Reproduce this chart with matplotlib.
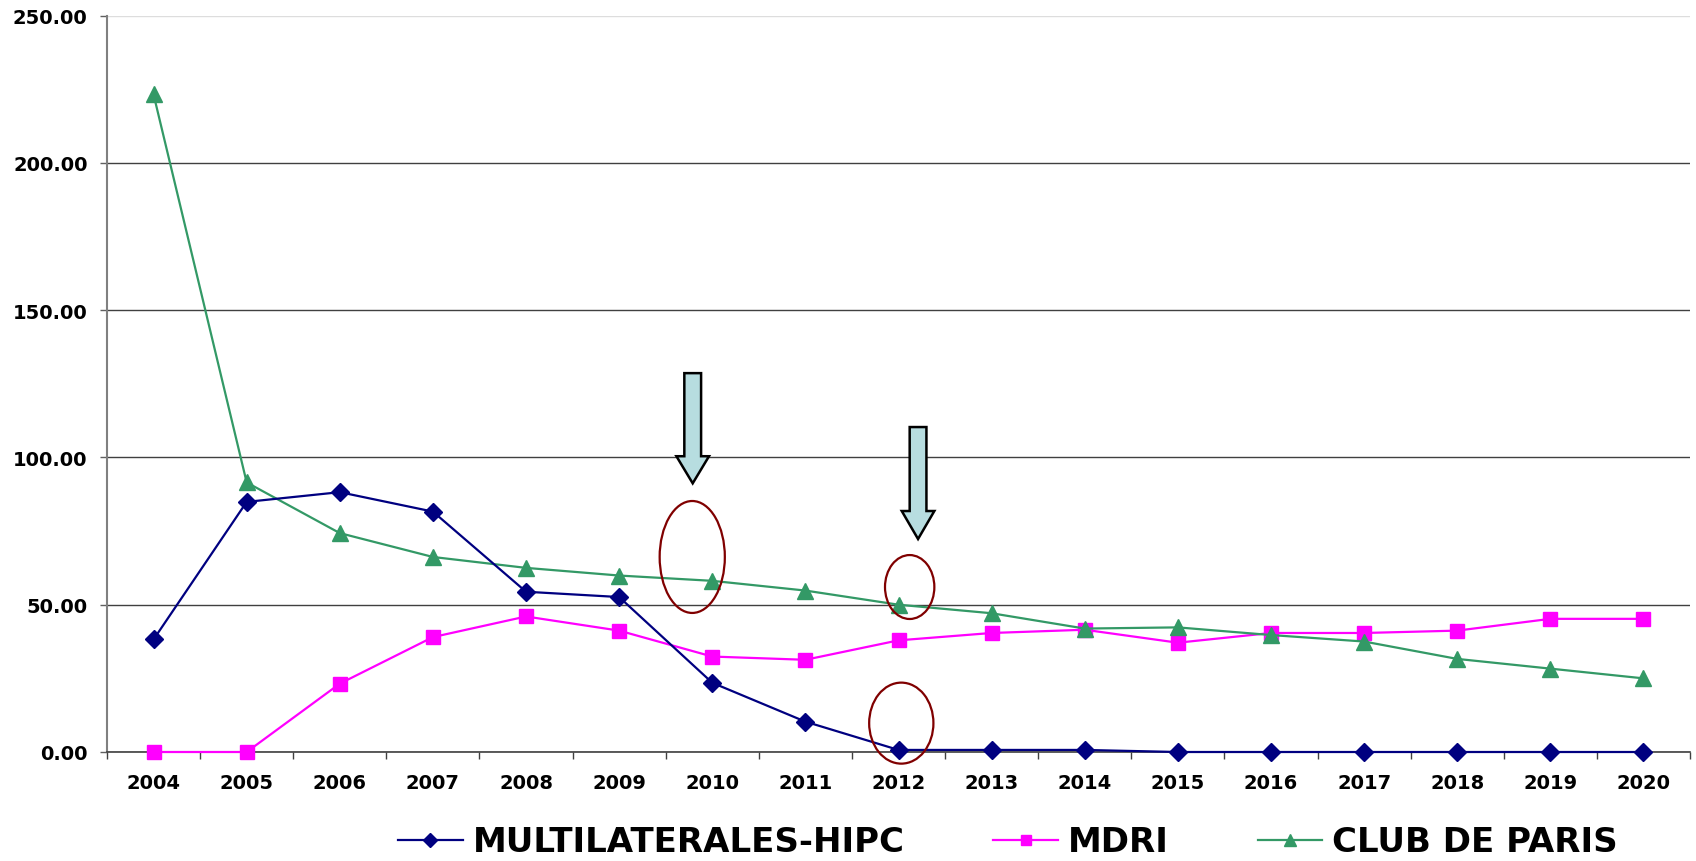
import matplotlib.pyplot as plt
import matplotlib.patches as patches
import numpy as np

years = ['2004', '2005', '2006', '2007', '2008', '2009', '2010', '2011', '2012',
         '2013', '2014', '2015', '2016', '2017', '2018', '2019', '2020']

hipc = [38.2, 84.9, 88.2, 81.6, 54.4, 52.6, 23.5, 10.3, 0.7,
        0.7, 0.7, 0.0, 0.0, 0.0, 0.0, 0.0, 0.0]
mdri = [0.0, 0.0, 23.2, 39.0, 46.0, 41.2, 32.4, 31.3, 37.9,
        40.4, 41.5, 37.1, 40.4, 40.4, 41.2, 45.2, 45.2]
club_paris = [223.2, 91.5, 74.3, 66.2, 62.5, 59.9, 58.1, 54.8, 50.0,
              47.1, 41.9, 42.3, 39.7, 37.5, 31.6, 28.3, 25.0]

series_names = ['MULTILATERALES-HIPC', 'MDRI', 'CLUB DE PARIS']

plt.rcParams['font.family'] = ['DejaVu Sans']
plt.rcParams['font.weight'] = 'bold'

fig = plt.figure(figsize=(16.96, 8.62), dpi=100)
ax = fig.add_axes([107 / 1696, 1 - 753 / 862, (1690 - 107) / 1696, (753 - 16.5) / 862])

x = np.arange(len(years))
ax.plot(x, hipc, color='#000080', lw=1.6, marker='D', ms=9, label=series_names[0], clip_on=False, zorder=4)
ax.plot(x, mdri, color='#FF00FF', lw=1.6, marker='s', ms=9.5, label=series_names[1], clip_on=False, zorder=3)
ax.plot(x, club_paris, color='#339966', lw=1.6, marker='^', ms=11.5, label=series_names[2], clip_on=False, zorder=3)

ax.set_xlim(-0.5, len(years) - 0.5)
ax.set_ylim(0, 250)

# y axis
ax.set_yticks(np.arange(0, 251, 50))
ax.set_yticklabels([f'{v:.2f}' for v in np.arange(0, 251, 50)], fontsize=14, fontweight='bold')
ax.tick_params(axis='y', direction='out', length=5, width=1, color='#606060', pad=9)
ax.yaxis.grid(True, color='#404040', lw=1)
ax.yaxis.get_gridlines()[-1].set_color('#dddddd')
ax.set_axisbelow(True)

# x axis: labels centred, tick marks between categories
ax.set_xticks(x)
ax.set_xticklabels(years, fontsize=14, fontweight='bold')
ax.set_xticks(np.arange(-0.5, len(years)), minor=True)
ax.tick_params(axis='x', which='major', length=0, pad=15)
ax.tick_params(axis='x', which='minor', direction='out', length=5, width=1, color='#404040')

for side in ['top', 'right']:
    ax.spines[side].set_visible(False)
ax.spines['left'].set_color('#808080')
ax.spines['left'].set_linewidth(1.5)
ax.spines['bottom'].set_color('#404040')
ax.spines['bottom'].set_linewidth(1.2)

# block arrows
for ax_x, top, tip, head in [(5.79, 128.6, 91.2, 9.2), (8.21, 110.3, 72.3, 9.5)]:
    arr = patches.FancyArrow(ax_x, top, 0, tip - top, width=0.18, head_width=0.35,
                             head_length=head, length_includes_head=True,
                             fc='#B7DDE0', ec='black', lw=1.8, zorder=5)
    ax.add_patch(arr)

# highlight ellipses
for cx, cy, w, h in [(5.785, 66.2, 0.70, 38.0), (8.12, 56.0, 0.53, 21.7), (8.03, 9.8, 0.69, 27.5)]:
    ell = patches.Ellipse((cx, cy), w, h, fill=False, ec='#800000', lw=1.6, zorder=6, clip_on=False)
    ax.add_patch(ell)

fig.legend(loc='center left', bbox_to_anchor=(398 / 1696, 1 - 843 / 862), ncol=3,
           frameon=False, prop={'weight': 'bold', 'size': 24.5},
           handlelength=1.9, handletextpad=0.3, columnspacing=2.6,
           borderpad=0, borderaxespad=0, markerscale=0.8)

fig.savefig('out.png', dpi=100)
